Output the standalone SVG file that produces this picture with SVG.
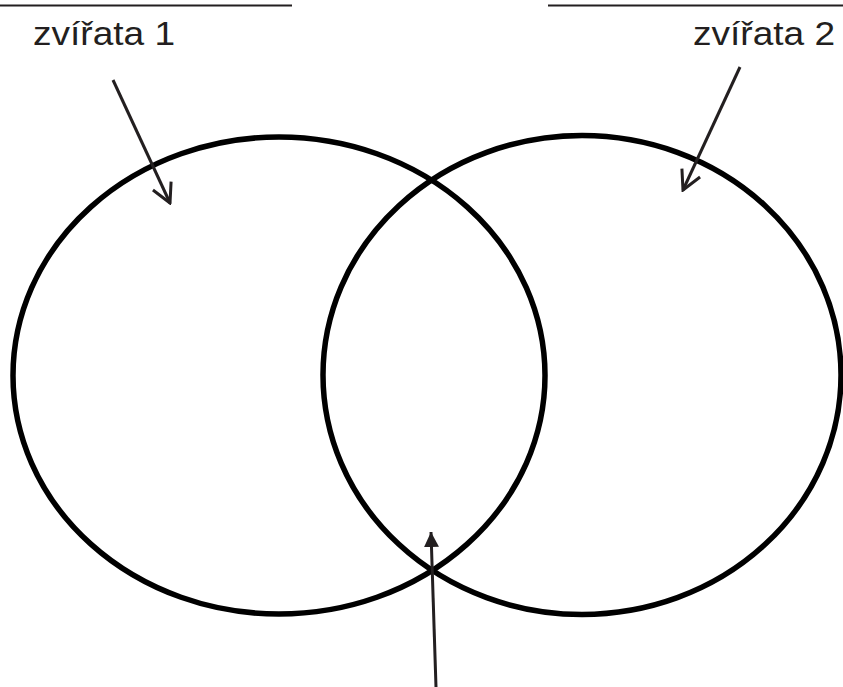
<svg xmlns="http://www.w3.org/2000/svg" width="843" height="687" viewBox="0 0 843 687">
<style>
.ring{fill:none;stroke:#000;stroke-width:5.5}
.rule{stroke:#231f20;stroke-width:2}
.lbl{font-family:"Liberation Sans",Arial,sans-serif;font-size:33px;fill:#231f20}
.arr{stroke:#231f20;stroke-width:3;fill:none}
</style>
<defs>
<marker id="open" viewBox="0 0 24 24" refX="22" refY="12" markerWidth="24" markerHeight="24" markerUnits="userSpaceOnUse" orient="auto">
<path d="M3,2 L22,12 L3,22" fill="none" stroke="#231f20" stroke-width="3" stroke-linejoin="miter"/>
</marker>
<marker id="solid" viewBox="0 0 16 16" refX="15" refY="8" markerWidth="16" markerHeight="16" markerUnits="userSpaceOnUse" orient="auto">
<path d="M0,0.5 L15,8 L0,15.5 Z" fill="#231f20"/>
</marker>
</defs>
<rect width="843" height="687" fill="#fff"/>
<g id="set1">
<ellipse class="ring" cx="279" cy="375.5" rx="266" ry="238.5"/>
<line class="rule" x1="0" y1="5.5" x2="292" y2="5.5"/>
<text class="lbl" transform="translate(33,45) scale(1.123,1)">zvířata 1</text>
</g>
<g id="set2">
<ellipse class="ring" cx="582" cy="375" rx="259" ry="239.5"/>
<line class="rule" x1="548" y1="5.5" x2="843" y2="5.5"/>
<text class="lbl" transform="translate(693,45) scale(1.123,1)">zvířata 2</text>
</g>
<g id="connectors">
<line class="arr" x1="113" y1="80" x2="170" y2="203" marker-end="url(#open)"/>
<line class="arr" x1="740" y1="67" x2="683" y2="190" marker-end="url(#open)"/>
<line class="arr" x1="436" y1="687" x2="431" y2="532" marker-end="url(#solid)"/>
</g>
</svg>
